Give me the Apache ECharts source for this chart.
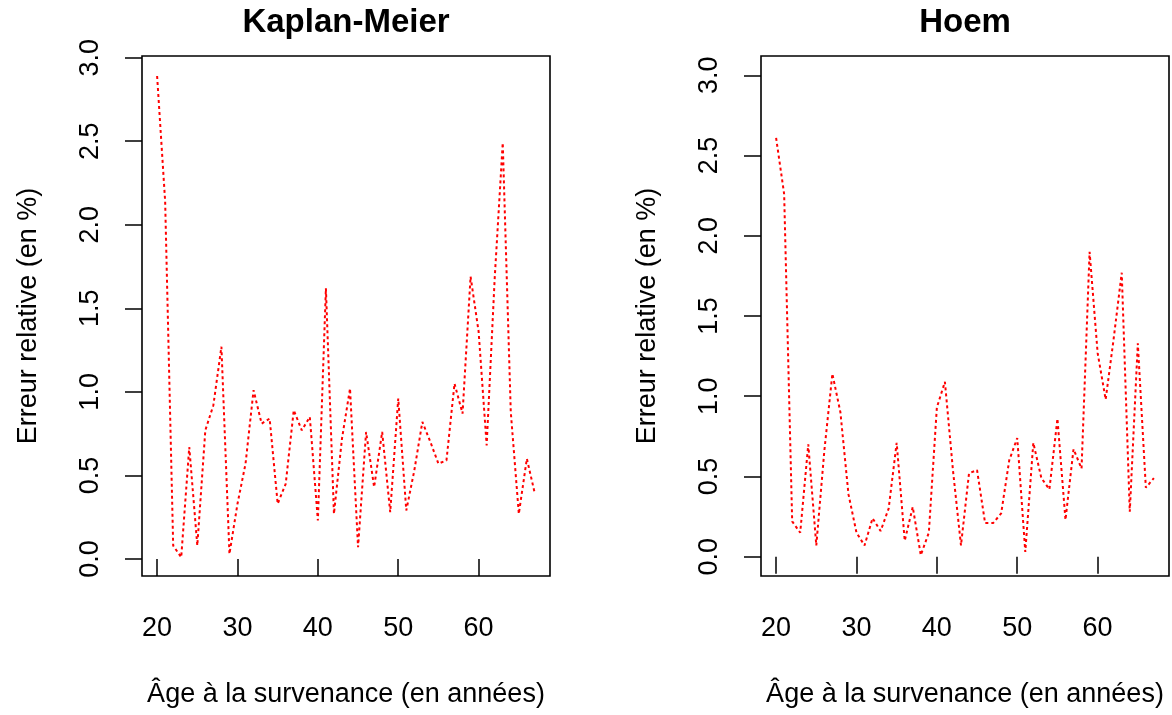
<!DOCTYPE html>
<html>
<head>
<meta charset="utf-8">
<script src="https://cdn.jsdelivr.net/npm/echarts@6/dist/echarts.min.js"></script>
<style>
  html, body { margin: 0; padding: 0; background: #fff; }
  #chart { width: 1172px; height: 715px; }
</style>
</head>
<body>
<div id="chart"></div>
<script>
// Age at occurrence (years)
const ages = [20, 21, 22, 23, 24, 25, 26, 27, 28, 29,
              30, 31, 32, 33, 34, 35, 36, 37, 38, 39,
              40, 41, 42, 43, 44, 45, 46, 47, 48, 49,
              50, 51, 52, 53, 54, 55, 56, 57, 58, 59,
              60, 61, 62, 63, 64, 65, 66, 67];

// Relative error (%) of the Kaplan-Meier estimator
const kaplanMeier = [2.89, 2.14, 0.08, 0.01, 0.67, 0.08, 0.77, 0.92, 1.27, 0.03,
                     0.33, 0.57, 1.01, 0.81, 0.84, 0.33, 0.45, 0.89, 0.77, 0.85,
                     0.23, 1.62, 0.27, 0.72, 1.02, 0.07, 0.76, 0.43, 0.76, 0.28,
                     0.96, 0.29, 0.53, 0.82, 0.70, 0.57, 0.59, 1.05, 0.87, 1.69,
                     1.36, 0.68, 1.68, 2.49, 0.88, 0.27, 0.60, 0.39];

// Relative error (%) of the Hoem estimator
const hoem = [2.61, 2.26, 0.22, 0.15, 0.70, 0.07, 0.66, 1.14, 0.90, 0.39,
              0.15, 0.07, 0.24, 0.16, 0.30, 0.71, 0.10, 0.31, 0.01, 0.15,
              0.93, 1.09, 0.54, 0.07, 0.52, 0.54, 0.21, 0.21, 0.27, 0.60,
              0.74, 0.03, 0.71, 0.49, 0.42, 0.86, 0.23, 0.67, 0.55, 1.90,
              1.27, 0.98, 1.36, 1.77, 0.28, 1.33, 0.43, 0.49];

const xTicks = [20, 30, 40, 50, 60];
const yTicks = [0, 0.5, 1, 1.5, 2, 2.5, 3];

const panelTitles = ['Kaplan-Meier', 'Hoem'];
const xTitle = 'Âge à la survenance (en années)';
const yTitle = 'Erreur relative (en %)';

const FONT = '"Liberation Sans", Arial, Helvetica, sans-serif';
const INK = '#000';

// Two panels with the same plot-box size
const grids = [
  { left: 142, top: 56, width: 408, height: 520 },
  { left: 761, top: 56, width: 408, height: 520 }
];
// y ranges of the two plot boxes (data range padded by 4 %)
const yRanges = [[-0.102, 3.010], [-0.12, 3.12]];

function xAxisFor(i) {
  return {
    gridIndex: i,
    type: 'value',
    min: 18.12,
    max: 68.88,
    name: xTitle,
    nameLocation: 'middle',
    nameGap: 105,
    nameTextStyle: { fontFamily: FONT, fontSize: 27, color: INK },
    axisLine: { show: false },
    axisTick: {
      show: true, inside: false, length: 17,
      customValues: xTicks,
      lineStyle: { color: INK, width: 1.5 }
    },
    axisLabel: {
      show: true, margin: 39,
      customValues: xTicks,
      fontFamily: FONT, fontSize: 27, color: INK
    },
    splitLine: { show: false }
  };
}

function yAxisFor(i) {
  return {
    gridIndex: i,
    type: 'value',
    min: yRanges[i][0],
    max: yRanges[i][1],
    name: yTitle,
    nameLocation: 'middle',
    nameRotate: 90,
    nameGap: 100,
    nameTextStyle: { fontFamily: FONT, fontSize: 27, color: INK },
    axisLine: { show: false },
    axisTick: {
      show: true, inside: false, length: 17,
      customValues: yTicks,
      lineStyle: { color: INK, width: 1.5 }
    },
    axisLabel: {
      show: true, margin: 38, rotate: 90,
      customValues: yTicks,
      formatter: v => v.toFixed(1),
      fontFamily: FONT, fontSize: 27, color: INK
    },
    splitLine: { show: false }
  };
}

function seriesFor(i, values) {
  return {
    type: 'line',
    xAxisIndex: i,
    yAxisIndex: i,
    data: ages.map((a, k) => [a, values[k]]),
    symbol: 'none',
    animation: false,
    lineStyle: { color: '#ff0000', width: 2, type: [3, 3] },
    z: 3
  };
}

const chart = echarts.init(document.getElementById('chart'), null, { renderer: 'canvas' });

chart.setOption({
  backgroundColor: '#fff',
  animation: false,
  grid: grids.map(g => Object.assign({
    show: true, borderColor: INK, borderWidth: 1.6, backgroundColor: 'transparent',
    containLabel: false
  }, g)),
  xAxis: [xAxisFor(0), xAxisFor(1)],
  yAxis: [yAxisFor(0), yAxisFor(1)],
  series: [seriesFor(0, kaplanMeier), seriesFor(1, hoem)],
  graphic: panelTitles.map((t, i) => ({
    type: 'text',
    x: grids[i].left + grids[i].width / 2,
    y: 23,
    style: {
      text: t,
      textAlign: 'center',
      textVerticalAlign: 'middle',
      font: 'bold 33px ' + FONT,
      fill: INK
    }
  }))
});
</script>
</body>
</html>
